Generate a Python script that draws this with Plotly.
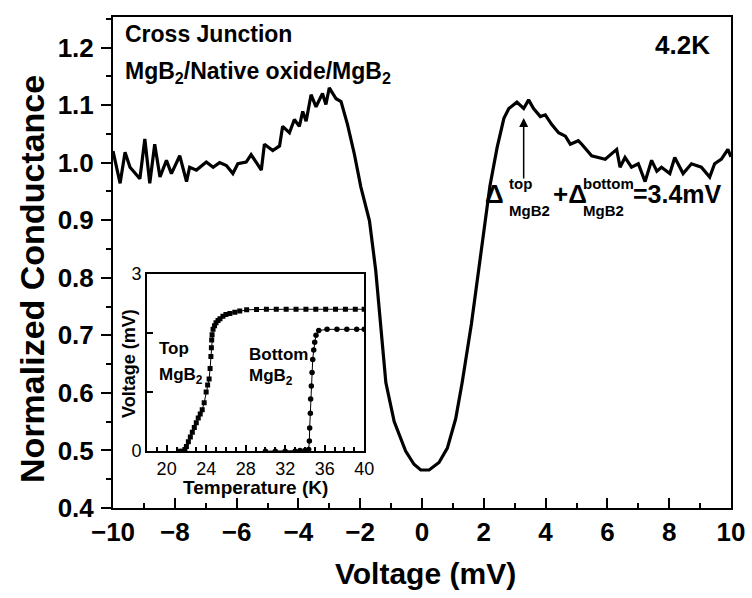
import plotly.graph_objects as go

# ---------------- data ----------------
bias_mV = [-10.0, -9.77, -9.61, -9.45, -9.13, -8.97, -8.81, -8.65, -8.48, -8.27,
           -8.11, -7.84, -7.62, -7.52, -7.30, -6.98, -6.76, -6.55, -6.33, -6.12,
           -5.96, -5.69, -5.53, -5.20, -5.10, -4.83, -4.61, -4.51, -4.29, -4.13,
           -3.97, -3.86, -3.75, -3.59, -3.43, -3.22, -3.11, -3.00, -2.78, -2.62,
           -2.41, -2.19, -1.98, -1.70, -1.50, -1.30, -1.17, -0.90, -0.53, -0.26,
           -0.04, 0.23, 0.55, 0.82, 1.09, 1.30, 1.60, 1.90, 2.20, 2.43,
           2.65, 2.81, 3.07, 3.29, 3.45, 3.61, 3.83, 3.99, 4.20, 4.42,
           4.64, 4.80, 5.06, 5.17, 5.49, 5.93, 6.30, 6.41, 6.57, 6.78,
           7.00, 7.22, 7.43, 7.60, 7.75, 8.02, 8.18, 8.45, 8.72, 9.04,
           9.31, 9.47, 9.69, 9.90, 10.0]
conductance = [1.020, 0.964, 1.018, 0.992, 0.972, 1.041, 0.964, 1.032, 0.975, 1.004,
               0.981, 1.012, 0.967, 0.992, 0.987, 1.001, 0.992, 1.000, 0.995, 0.981,
               0.998, 1.001, 1.014, 0.987, 1.032, 1.021, 1.029, 1.063, 1.052, 1.075,
               1.063, 1.089, 1.072, 1.118, 1.097, 1.120, 1.101, 1.130, 1.111, 1.106,
               1.066, 1.015, 0.958, 0.899, 0.814, 0.703, 0.618, 0.550, 0.499, 0.476,
               0.466, 0.466, 0.479, 0.504, 0.555, 0.618, 0.720, 0.840, 0.960, 1.026,
               1.077, 1.094, 1.105, 1.094, 1.109, 1.094, 1.080, 1.083, 1.066, 1.052,
               1.046, 1.032, 1.038, 1.032, 1.012, 1.006, 1.023, 0.992, 1.009, 0.992,
               0.998, 0.967, 1.004, 0.985, 0.992, 0.981, 1.009, 0.981, 0.998, 0.992,
               0.975, 0.998, 1.006, 1.023, 1.010]

top_T = [21.3, 21.6, 21.85, 22.0, 22.2, 22.4, 22.6, 22.8, 23.0, 23.2,
         23.4, 23.6, 23.8, 24.0, 24.15, 24.3, 24.4, 24.48, 24.53, 24.56,
         24.6, 24.7, 24.85, 25.0, 25.2, 25.4, 25.7, 26.0, 26.4, 26.9,
         27.4, 28.1, 29.1, 30.1, 31.1, 32.1, 33.1, 34.1, 35.1, 36.1,
         37.1, 38.1, 39.1, 40.0]
top_V = [0.0, 0.0, 0.03, 0.08, 0.16, 0.24, 0.32, 0.40, 0.48, 0.56,
         0.63, 0.70, 0.82, 1.00, 1.12, 1.22, 1.40, 1.60, 1.75, 1.88,
         1.97, 2.06, 2.12, 2.17, 2.21, 2.24, 2.28, 2.31, 2.33, 2.35,
         2.37, 2.39, 2.395, 2.40, 2.40, 2.40, 2.40, 2.40, 2.40, 2.40,
         2.40, 2.40, 2.40, 2.40]

bot_T = [30.0, 31.0, 32.0, 33.0, 33.5, 34.0, 34.38, 34.45, 34.48, 34.55,
         34.58, 34.65, 34.72, 34.79, 34.89, 34.99, 35.12, 35.40, 36.24, 37.24,
         38.24, 39.24, 40.0]
bot_V = [0.0, 0.0, 0.0, 0.0, 0.01, 0.01, 0.03, 0.17, 0.39, 0.64,
         0.88, 1.10, 1.33, 1.55, 1.71, 1.84, 1.96, 2.04, 2.06, 2.06,
         2.06, 2.06, 2.06]

main_yticks = [0.4, 0.5, 0.6, 0.7, 0.8, 0.9, 1.0, 1.1, 1.2]
inset_xticks = [20, 24, 28, 32, 36, 40]
inset_yticks = [0, 1, 2, 3]
inset_yticktext = ["0", " ", " ", "3"]

# ---------------- figure ----------------
FONT = "Liberation Sans, Arial, Helvetica, sans-serif"
W, H = 752, 598
L, R, T, B = 113, 19, 7, 90
PW, PH = W - L - R, H - T - B


def px(x):
    return (x - L) / PW


def py(y):
    return (T + PH - y) / PH


fig = go.Figure()
fig.add_trace(go.Scatter(x=bias_mV, y=conductance, mode="lines",
                         line=dict(color="black", width=3.2),
                         showlegend=False, xaxis="x", yaxis="y"))
fig.add_trace(go.Scatter(x=top_T, y=top_V, mode="lines+markers",
                         line=dict(color="black", width=1),
                         marker=dict(symbol="square", size=5, color="black"),
                         showlegend=False, xaxis="x2", yaxis="y2"))
fig.add_trace(go.Scatter(x=bot_T, y=bot_V, mode="lines+markers",
                         line=dict(color="black", width=1),
                         marker=dict(symbol="circle", size=5.5, color="black"),
                         showlegend=False, xaxis="x2", yaxis="y2"))

bold = dict(family=FONT, color="black", weight="bold")

fig.update_layout(
    width=W, height=H,
    margin=dict(l=L, r=R, t=T, b=B),
    paper_bgcolor="white", plot_bgcolor="white",
    xaxis=dict(range=[-10, 10], dtick=2, tick0=-10, ticks="inside", ticklen=10,
               tickwidth=2, tickcolor="black", showline=True, linewidth=2,
               linecolor="black", mirror=True, showgrid=False, zeroline=False,
               tickfont=dict(size=26, **bold), ticklabelstandoff=0,
               minor=dict(dtick=1, ticks="inside", ticklen=5, tickwidth=2,
                          tickcolor="black", showgrid=False)),
    yaxis=dict(range=[0.4, 1.253], tickvals=main_yticks, tickformat=".1f",
               ticks="outside", ticklen=10, tickwidth=2, tickcolor="black",
               showline=True, linewidth=2, linecolor="black", mirror=True,
               showgrid=False, zeroline=False,
               tickfont=dict(size=26, **bold), ticklabelstandoff=2,
               minor=dict(dtick=0.05, tick0=0.4, ticks="outside", ticklen=5,
                          tickwidth=2, tickcolor="black", showgrid=False)),
    xaxis2=dict(domain=[px(147), px(365)], anchor="y2", range=[18, 40],
                tickvals=inset_xticks, ticks="inside", ticklen=6, tickwidth=1.5,
                tickcolor="black", showline=True, linewidth=1.5,
                linecolor="black", mirror=True, showgrid=False, zeroline=False,
                tickfont=dict(size=18, family=FONT, color="black"),
                ticklabelstandoff=0,
                minor=dict(dtick=1, tick0=18, ticks="inside", ticklen=4,
                           tickwidth=1.5, tickcolor="black", showgrid=False)),
    yaxis2=dict(domain=[py(450), py(269)], anchor="x2", range=[0, 3],
                tickvals=inset_yticks, ticktext=inset_yticktext,
                ticks="inside", ticklen=6, tickwidth=1.5, tickcolor="black",
                showline=True, linewidth=1.5, linecolor="black", mirror=True,
                showgrid=False, zeroline=False,
                tickfont=dict(size=18, family=FONT, color="black"),
                ticklabelstandoff=0),
)

ann = []


def text(x, y, s, size, xanchor="left", angle=0, weight="bold"):
    ann.append(dict(x=px(x), y=py(y), xref="paper", yref="paper", text=s,
                    showarrow=False, xanchor=xanchor, yanchor="middle",
                    textangle=angle,
                    font=dict(size=size, family=FONT, color="black",
                              weight=weight)))


# axis titles
text(427, 575, "Voltage (mV)", 30, xanchor="center")
text(31, 274, "Normalized Conductance", 34, xanchor="center", angle=-90)
# inset titles
text(256, 487, "Temperature (K)", 19, xanchor="center")
text(129, 360, "Voltage (mV)", 18, xanchor="center", angle=-90)

# main labels
text(123, 24, "Cross Junction", 23)
text(123, 64, "MgB<sub>2</sub>/Native oxide/MgB<sub>2</sub>", 23)
text(714, 36, "4.2K", 26, xanchor="right")

# inset labels
text(157, 345, "Top", 17)
text(157, 373, "MgB<sub>2</sub>", 17)
text(247, 351, "Bottom", 17)
text(247, 374, "MgB<sub>2</sub>", 17)

# gap annotation
text(484, 188, "\u0394", 26)
text(508, 177, "top", 15)
text(508, 204, "MgB2", 15)
text(552, 188, "+\u0394", 26)
text(583, 177, "bottom", 15)
text(583, 204, "MgB2", 15)
text(633, 188, "=3.4mV", 25)

# arrow
ann.append(dict(x=px(525), y=py(110), xref="paper", yref="paper", text="",
                showarrow=True, ax=0, ay=62, arrowhead=2, arrowsize=1.2,
                arrowwidth=1.5, arrowcolor="black"))

fig.update_layout(annotations=ann)
fig.write_html("out.html")
